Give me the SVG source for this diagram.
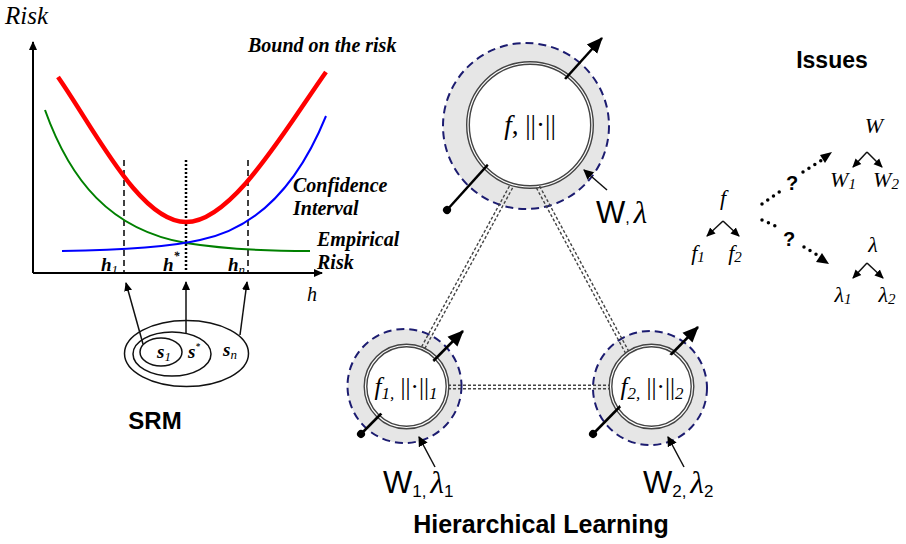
<svg xmlns="http://www.w3.org/2000/svg" width="906" height="544" viewBox="0 0 906 544">
<style>
.ser{font-family:"Liberation Serif","DejaVu Serif",serif}
.it{font-style:italic}
.bi{font-family:"Liberation Serif",serif;font-style:italic;font-weight:bold}
.sans{font-family:"Liberation Sans",Arial,sans-serif}
.bold{font-weight:bold}
.ax{stroke:#000;stroke-width:2;fill:none}
.thin{stroke:#111;stroke-width:1.5;fill:none}
.dash{stroke:#000;stroke-width:1.5;stroke-dasharray:6,4}
.dott{stroke:#000;stroke-width:2.5;stroke-dasharray:2,2}
.ring{fill:#e6e6e6;stroke:#1c1c70;stroke-width:2;stroke-dasharray:8,5}
.inner{fill:#fff;stroke:#444;stroke-width:4}
.innerw{fill:none;stroke:#fff;stroke-width:1.2}
.stick{stroke:#000;stroke-width:2.5;fill:none}
.dd{stroke:#444;stroke-width:1.4;stroke-dasharray:3,2;fill:none}
.dots{stroke:#000;stroke-width:3.5;stroke-linecap:round;stroke-dasharray:0,7;fill:none}
</style>
<defs>
<marker id="ah" markerWidth="10" markerHeight="10" refX="8" refY="5" orient="auto" markerUnits="userSpaceOnUse">
<path d="M0,1 L9,5 L0,9 z" fill="#000"/>
</marker>
<marker id="ahb" markerWidth="18" markerHeight="16" refX="15" refY="8" orient="auto" markerUnits="userSpaceOnUse">
<path d="M0,1 L16,8 L0,15 z" fill="#000"/>
</marker>
<marker id="dot" markerWidth="10" markerHeight="10" refX="5" refY="5" orient="auto" markerUnits="userSpaceOnUse">
<circle cx="5" cy="5" r="4" fill="#000"/>
</marker>
<marker id="ahs" markerWidth="12" markerHeight="12" refX="9" refY="6" orient="auto" markerUnits="userSpaceOnUse">
<path d="M0,1 L10,6 L0,11 z" fill="#000"/>
</marker>
</defs>
<rect width="906" height="544" fill="#fff"/>

<!-- SRM chart -->
<g id="chart">
<line class="ax" x1="33" y1="273" x2="33" y2="42" marker-end="url(#ah)"/>
<line class="ax" x1="33" y1="273" x2="322" y2="273" marker-end="url(#ah)"/>
<text x="5" y="24" class="ser it" font-size="25">Risk</text>
<text x="307" y="301" class="ser it" font-size="20">h</text>
<line class="dash" x1="124" y1="160" x2="124" y2="273"/>
<line class="dott" x1="186" y1="160" x2="186" y2="273"/>
<line class="dash" x1="248" y1="160" x2="248" y2="273"/>
<path d="M45,110 C70,180 110,230 186,243 C230,250 270,251 310,251" stroke="#008000" stroke-width="2" fill="none"/>
<path d="M62,251 C130,250 170,247 200,240 C260,228 300,180 326,116" stroke="#0000ff" stroke-width="2" fill="none"/>
<path d="M58,77 C95,130 140,222 186,222 C232,222 285,130 326,72" stroke="#ff0000" stroke-width="4.5" fill="none"/>
<text x="101" y="271" class="bi" font-size="19">h<tspan font-size="13" dy="3" font-weight="normal">1</tspan></text>
<text x="163" y="271" class="bi" font-size="19">h<tspan font-size="12" dy="-11">*</tspan></text>
<text x="228" y="271" class="bi" font-size="19">h<tspan font-size="13" dy="3" font-weight="normal">n</tspan></text>
<text x="248" y="52" class="bi" font-size="20">Bound on the risk</text>
<text x="293" y="192" class="bi" font-size="20">Confidence</text>
<text x="293" y="215" class="bi" font-size="20">Interval</text>
<text x="317" y="246" class="bi" font-size="20">Empirical</text>
<text x="317" y="269" class="bi" font-size="20">Risk</text>
</g>

<g id="srm">
<ellipse cx="186.5" cy="353.5" rx="62" ry="33" class="thin"/>
<ellipse cx="172" cy="354" rx="39" ry="22" class="thin"/>
<ellipse cx="161" cy="352" rx="21" ry="14" class="thin"/>
<text x="157" y="358" class="bi" font-size="19">s<tspan font-size="13" font-weight="normal" dy="3">1</tspan></text>
<text x="188" y="358" class="bi" font-size="19">s<tspan font-size="9" dy="-9">*</tspan></text>
<text x="223" y="356" class="bi" font-size="19">s<tspan font-size="13" font-weight="normal" dy="3">n</tspan></text>
<line class="thin" x1="143" y1="344" x2="126" y2="283" marker-end="url(#ah)"/>
<line class="thin" x1="186" y1="333" x2="186" y2="282" marker-end="url(#ah)"/>
<line class="thin" x1="240" y1="335" x2="247" y2="282" marker-end="url(#ah)"/>
<text x="155" y="429" class="sans bold" font-size="24" text-anchor="middle">SRM</text>
</g>

<!-- Hierarchical learning nodes -->
<g id="node-top">
<circle cx="526" cy="126" r="83" class="ring"/>
<circle cx="530" cy="125" r="62" class="inner"/>
<circle cx="530" cy="125" r="62" class="innerw"/>
<line class="stick" x1="447" y1="210" x2="602" y2="38" marker-start="url(#dot)" marker-end="url(#ahb)"/>
<circle cx="530" cy="125" r="58" fill="#fff"/>
<text x="530" y="134" class="ser" font-size="27" text-anchor="middle"><tspan font-style="italic">f</tspan>, ||·||</text>
<line class="thin" x1="607" y1="190" x2="584" y2="170" marker-end="url(#ahs)"/>
<text x="596" y="223" font-size="31"><tspan class="sans">W</tspan><tspan class="sans" font-size="16">,</tspan><tspan class="ser it" dx="4">λ</tspan></text>
</g>

<g id="node-left">
<circle cx="404.5" cy="386" r="57" class="ring"/>
<circle cx="406.5" cy="386.5" r="41" class="inner"/>
<circle cx="406.5" cy="386.5" r="41" class="innerw"/>
<line class="stick" x1="361" y1="434" x2="463" y2="331" marker-start="url(#dot)" marker-end="url(#ahb)"/>
<circle cx="406.5" cy="386.5" r="37" fill="#fff"/>
<text x="406" y="395" class="ser" font-size="25" text-anchor="middle"><tspan font-style="italic">f</tspan><tspan font-size="17" font-style="italic" dy="4">1,</tspan><tspan dy="-4"> ||·||</tspan><tspan font-size="17" font-style="italic" dy="4">1</tspan></text>
<line class="thin" x1="435" y1="467" x2="419" y2="437" marker-end="url(#ahs)"/>
<text x="383" y="493" font-size="31"><tspan class="sans">W</tspan><tspan class="sans" font-size="17" dy="4">1,</tspan><tspan class="ser it" dx="4" dy="-4">λ</tspan><tspan class="sans" font-size="17" dy="4">1</tspan></text>
</g>

<g id="node-right">
<circle cx="650" cy="388" r="57" class="ring"/>
<circle cx="651.5" cy="386.5" r="41" class="inner"/>
<circle cx="651.5" cy="386.5" r="41" class="innerw"/>
<line class="stick" x1="593" y1="434" x2="698" y2="327" marker-start="url(#dot)" marker-end="url(#ahb)"/>
<circle cx="651.5" cy="386.5" r="37" fill="#fff"/>
<text x="652" y="395" class="ser" font-size="25" text-anchor="middle"><tspan font-style="italic">f</tspan><tspan font-size="17" font-style="italic" dy="4">2,</tspan><tspan dy="-4"> ||·||</tspan><tspan font-size="17" font-style="italic" dy="4">2</tspan></text>
<line class="thin" x1="684" y1="467" x2="668" y2="437" marker-end="url(#ahs)"/>
<text x="643" y="493" font-size="31"><tspan class="sans">W</tspan><tspan class="sans" font-size="17" dy="4">2,</tspan><tspan class="ser it" dx="4" dy="-4">λ</tspan><tspan class="sans" font-size="17" dy="4">2</tspan></text>
</g>

<g id="connectors">
<line class="dd" x1="509.4" y1="186.1" x2="421.4" y2="347.1"/>
<line class="dd" x1="512.6" y1="187.9" x2="424.6" y2="348.9"/>
<line class="dd" x1="536.4" y1="187.9" x2="625.4" y2="352.9"/>
<line class="dd" x1="539.6" y1="186.1" x2="628.6" y2="351.1"/>
<line class="dd" x1="448" y1="385.2" x2="610" y2="385.2"/>
<line class="dd" x1="448" y1="388.8" x2="610" y2="388.8"/>
</g>

<text x="541" y="533" class="sans bold" font-size="25" text-anchor="middle">Hierarchical Learning</text>

<!-- Issues -->
<g id="issues">
<text x="832" y="68" class="sans bold" font-size="23" text-anchor="middle">Issues</text>
<g id="tree-f">
<text x="723" y="205" class="ser it" font-size="22" text-anchor="middle">f</text>
<line class="thin" x1="723" y1="221" x2="707" y2="236" marker-end="url(#ah)"/>
<line class="thin" x1="723" y1="221" x2="739" y2="236" marker-end="url(#ah)"/>
<text x="698" y="260" class="ser it" font-size="22" text-anchor="middle">f<tspan font-size="15" dy="2">1</tspan></text>
<text x="735" y="260" class="ser it" font-size="22" text-anchor="middle">f<tspan font-size="15" dy="2">2</tspan></text>
</g>
<g id="tree-w">
<text x="874" y="133" class="ser it" font-size="22" text-anchor="middle">W</text>
<line class="thin" x1="867" y1="152" x2="853" y2="167" marker-end="url(#ah)"/>
<line class="thin" x1="867" y1="152" x2="882" y2="167" marker-end="url(#ah)"/>
<text x="843" y="187" class="ser it" font-size="22" text-anchor="middle">W<tspan font-size="15" dy="2">1</tspan></text>
<text x="886" y="187" class="ser it" font-size="22" text-anchor="middle">W<tspan font-size="15" dy="2">2</tspan></text>
</g>
<g id="tree-l">
<text x="873" y="252" class="ser it" font-size="22" text-anchor="middle">λ</text>
<line class="thin" x1="867" y1="263" x2="853" y2="278" marker-end="url(#ah)"/>
<line class="thin" x1="867" y1="263" x2="883" y2="278" marker-end="url(#ah)"/>
<text x="843" y="302" class="ser it" font-size="22" text-anchor="middle">λ<tspan font-size="15" dy="2">1</tspan></text>
<text x="887" y="302" class="ser it" font-size="22" text-anchor="middle">λ<tspan font-size="15" dy="2">2</tspan></text>
</g>
<g id="dotted-arrows">
<line class="dots" x1="762" y1="204" x2="782" y2="190"/>
<text x="792" y="190" class="sans bold" font-size="20" text-anchor="middle">?</text>
<line class="dots" x1="803" y1="172" x2="822" y2="160"/>
<path d="M820,155 L832,152 L825,163 z" fill="#000"/>
<line class="dots" x1="762" y1="220" x2="780" y2="228"/>
<text x="789" y="246" class="sans bold" font-size="20" text-anchor="middle">?</text>
<line class="dots" x1="804" y1="247" x2="819" y2="256"/>
<path d="M816,262 L829,264 L822,253 z" fill="#000"/>
</g>
</g>
</svg>
